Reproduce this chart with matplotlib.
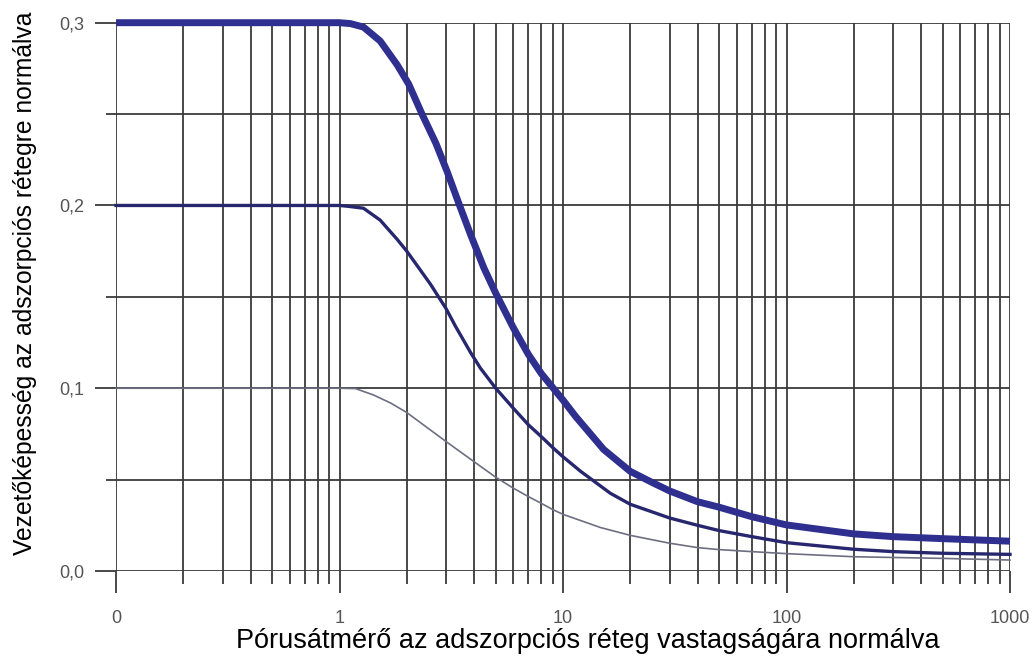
import matplotlib
matplotlib.use("Agg")
import matplotlib.pyplot as plt
from matplotlib.ticker import FixedLocator, FixedFormatter, NullFormatter

plt.rcParams['font.family'] = ['Liberation Sans', 'DejaVu Sans']

# values (x = normalised pore diameter, y = normalised conductivity)
x_thick = [0.1, 1.0, 1.12, 1.28, 1.52, 1.81, 2.04, 2.34, 2.7, 3.03, 3.41, 3.86, 4.42, 5, 6, 7, 8,
           10, 11.4, 15.2, 20, 25, 30, 40, 50, 70, 100, 200, 300, 500, 1000]
y_thick = [0.3, 0.3, 0.2995, 0.2976, 0.290, 0.277, 0.2664, 0.25, 0.234, 0.2186, 0.2015, 0.184, 0.166,
           0.152, 0.133, 0.1185, 0.108, 0.0935, 0.0845, 0.0665, 0.0545, 0.0485, 0.0438, 0.0379, 0.0349,
           0.0297, 0.0252, 0.0203, 0.0188, 0.0177, 0.0163]

x_med = [0.1, 1.0, 1.1, 1.28, 1.52, 1.81, 2.0, 2.55, 3.0, 3.30, 3.86, 4.27, 5, 6, 7, 8, 9, 10, 12,
         16.3, 20, 30, 40, 50, 70, 100, 200, 300, 500, 1000]
y_med = [0.2, 0.2, 0.1995, 0.1985, 0.192, 0.1815, 0.175, 0.157, 0.1435, 0.134, 0.1195, 0.111, 0.1,
         0.089, 0.080, 0.0735, 0.0675, 0.0625, 0.0545, 0.0425, 0.0365, 0.029, 0.025, 0.0221, 0.0188,
         0.0155, 0.0119, 0.0106, 0.0097, 0.0091]

x_thin = [0.1, 1.0, 1.18, 1.42, 1.7, 2, 3, 4, 5, 6, 7, 8, 9, 10, 14.7, 20, 30, 40, 50, 70, 100,
          200, 500, 1000]
y_thin = [0.1, 0.1, 0.0998, 0.0963, 0.0918, 0.0867, 0.0708, 0.0598, 0.0513, 0.0453, 0.0407, 0.0370,
          0.0336, 0.031, 0.0238, 0.0195, 0.0152, 0.0128, 0.0117, 0.0106, 0.0095, 0.0078, 0.0069, 0.006]

x_major = [0.1, 1, 10, 100, 1000]
x_labels = ['0', '1', '10', '100', '1000']
y_major = [0.0, 0.1, 0.2, 0.3]
y_minor = [0.05, 0.15, 0.25]
y_labels = ['0,0', '0,1', '0,2', '0,3']

fig = plt.figure(figsize=(10.32, 6.57), dpi=100)
ax = fig.add_axes([116 / 1032, 1 - 571 / 657, (1010 - 116) / 1032, (571 - 22.7) / 657])

ax.set_xscale('log')
ax.set_xlim(0.1, 1000)
ax.set_ylim(0, 0.3)

grid_c = '#3a3a3a'
ax.grid(which='both', axis='both', color=grid_c, linewidth=1.3)
ax.set_axisbelow(True)
for s in ax.spines.values():
    s.set_visible(False)

ax.xaxis.set_major_locator(FixedLocator(x_major))
ax.xaxis.set_major_formatter(FixedFormatter(x_labels))
ax.xaxis.set_minor_formatter(NullFormatter())
ax.yaxis.set_major_locator(FixedLocator(y_major))
ax.yaxis.set_major_formatter(FixedFormatter(y_labels))
ax.yaxis.set_minor_locator(FixedLocator(y_minor))

ax.tick_params(axis='x', which='major', length=16, width=1.3, color=grid_c, pad=12,
               labelsize=13, labelcolor='#555555')
ax.tick_params(axis='x', which='minor', length=9, width=1.3, color=grid_c)
ax.tick_params(axis='y', which='major', length=15, width=1.3, color=grid_c, pad=8,
               labelsize=13, labelcolor='#555555')
ax.tick_params(axis='y', which='minor', length=7.5, width=1.3, color=grid_c)

ax.plot(x_thin, y_thin, color='#6e6e82', linewidth=1.2, clip_on=False, zorder=3)
ax.plot(x_med, y_med, color='#27276f', linewidth=2.4, clip_on=False, zorder=4)
ax.plot(x_thick, y_thick, color='#2f2f8f', linewidth=5, clip_on=False, zorder=5,
        solid_capstyle='butt')

ax.set_xlabel('Pórusátmérő az adszorpciós réteg vastagságára normálva', fontsize=19.5)
ax.set_ylabel('Vezetőképesség az adszorpciós rétegre normálva', fontsize=17.7)
ax.xaxis.set_label_coords(0.528, -0.104)
ax.yaxis.set_label_coords(-0.088, 0.525)

fig.savefig('out.png', dpi=100)
